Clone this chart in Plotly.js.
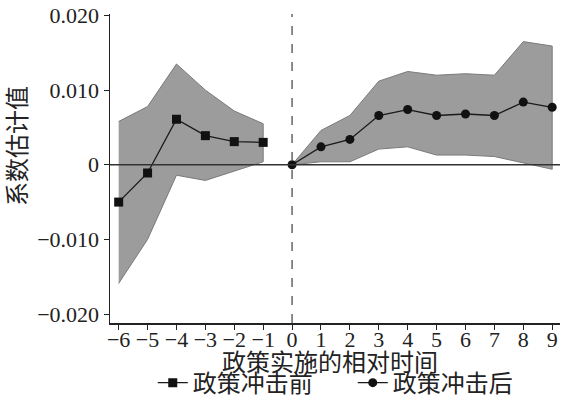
<!DOCTYPE html>
<html><head><meta charset="utf-8">
<script src="https://cdn.plot.ly/plotly-3.0.1.min.js"></script>
<style>html,body{margin:0;padding:0;background:#fff}#chart{width:567px;height:399px}</style>
</head><body><div id="chart"></div>
<script>
// Data
const preX = [-6, -5, -4, -3, -2, -1];
const preY = [-0.0050, -0.0011, 0.0061, 0.0039, 0.0031, 0.0030];
const preUpper = [0.0058, 0.0078, 0.0135, 0.0100, 0.0072, 0.0055];
const preLower = [-0.0159, -0.0100, -0.0014, -0.0021, -0.0009, 0.0004];

const postX = [0, 1, 2, 3, 4, 5, 6, 7, 8, 9];
const postY = [0, 0.0024, 0.0034, 0.0066, 0.0074, 0.0066, 0.0068, 0.0066, 0.0084, 0.0077];
const postUpper = [0, 0.0046, 0.0066, 0.0112, 0.0125, 0.0120, 0.0122, 0.0120, 0.0165, 0.0159];
const postLower = [0, 0.0004, 0.0004, 0.0021, 0.0024, 0.0013, 0.0013, 0.0011, 0.0002, -0.0006];

const xTicks = [-6,-5,-4,-3,-2,-1,0,1,2,3,4,5,6,7,8,9];
const xTickText = ['\u22126','\u22125','\u22124','\u22123','\u22122','\u22121','0','1','2','3','4','5','6','7','8','9'];
const yTicks = [-0.020, -0.010, 0, 0.010, 0.020];
const yTickText = ['\u22120.020','\u22120.010','0','0.010','0.020'];

const seriesNames = ['政策冲击前', '政策冲击后'];
const xTitle = '政策实施的相对时间';
const yTitle = '系数估计值';

function band(xs, up, lo) {
  return {
    x: xs.concat(xs.slice().reverse()),
    y: up.concat(lo.slice().reverse()),
    type: 'scatter', mode: 'lines', fill: 'toself',
    fillcolor: '#9c9c9c', line: {color: '#7a7a7a', width: 1},
    hoverinfo: 'skip', showlegend: false
  };
}

const traces = [
  band(preX, preUpper, preLower),
  band(postX, postUpper, postLower),
  {x: preX, y: preY, type: 'scatter', mode: 'lines+markers', name: seriesNames[0],
   line: {color: '#1a1a1a', width: 1.3}, marker: {symbol: 'square', size: 9, color: '#111'}},
  {x: postX, y: postY, type: 'scatter', mode: 'lines+markers', name: seriesNames[1],
   line: {color: '#1a1a1a', width: 1.3}, marker: {symbol: 'circle', size: 9, color: '#111'}}
];

const layout = {
  width: 567, height: 399,
  margin: {l: 110, r: 7, t: 14, b: 76, autoexpand: false},
  paper_bgcolor: '#fff', plot_bgcolor: '#fff',
  showlegend: true,
  legend: {orientation: 'h', xref: 'paper', yref: 'container', x: 0.095, xanchor: 'left', y: 0.04, yanchor: 'middle',
    font: {family: 'Noto Sans CJK SC', size: 24, color: '#222'}, entrywidth: 155, entrywidthmode: 'pixels',
    tracegroupgap: 0, bgcolor: 'rgba(0,0,0,0)'},
  xaxis: {
    range: [-6.3, 9.27], tickvals: xTicks, ticktext: xTickText,
    showgrid: false, zeroline: false, showline: true, linecolor: '#222', linewidth: 1.5,
    ticks: 'outside', ticklen: 5, tickcolor: '#222', automargin: false, ticklabelstandoff: -9,
    tickfont: {family: 'Liberation Serif', size: 22, color: '#222'}
  },
  yaxis: {
    range: [-0.0212, 0.0202], tickvals: yTicks, ticktext: yTickText,
    showgrid: false, zeroline: false, showline: true, linecolor: '#222', linewidth: 1.5,
    ticks: 'outside', ticklen: 5, tickcolor: '#222', automargin: false,
    tickfont: {family: 'Liberation Serif', size: 22, color: '#222'}
  },
  shapes: [
    {type: 'line', xref: 'paper', yref: 'y', x0: 0, x1: 1, y0: 0, y1: 0,
     line: {color: '#333', width: 1.3}, layer: 'above'},
    {type: 'line', xref: 'x', yref: 'paper', x0: 0, x1: 0, y0: 0, y1: 1,
     line: {color: '#666', width: 1.5, dash: 'dash'}, layer: 'above'}
  ],
  annotations: [
    {text: yTitle, xref: 'paper', yref: 'paper', x: -0.209, y: 0.573, textangle: -90,
     showarrow: false, xanchor: 'center', yanchor: 'middle',
     font: {family: 'Noto Sans CJK SC', size: 24, color: '#222'}},
    {text: xTitle, xref: 'paper', yref: 'paper', x: 0.488, y: -0.122, yanchor: 'middle',
     showarrow: false, xanchor: 'center',
     font: {family: 'Noto Sans CJK SC', size: 24, color: '#222'}}
  ]
};

Plotly.newPlot('chart', traces, layout, {displayModeBar: false, staticPlot: true});
</script></body></html>
